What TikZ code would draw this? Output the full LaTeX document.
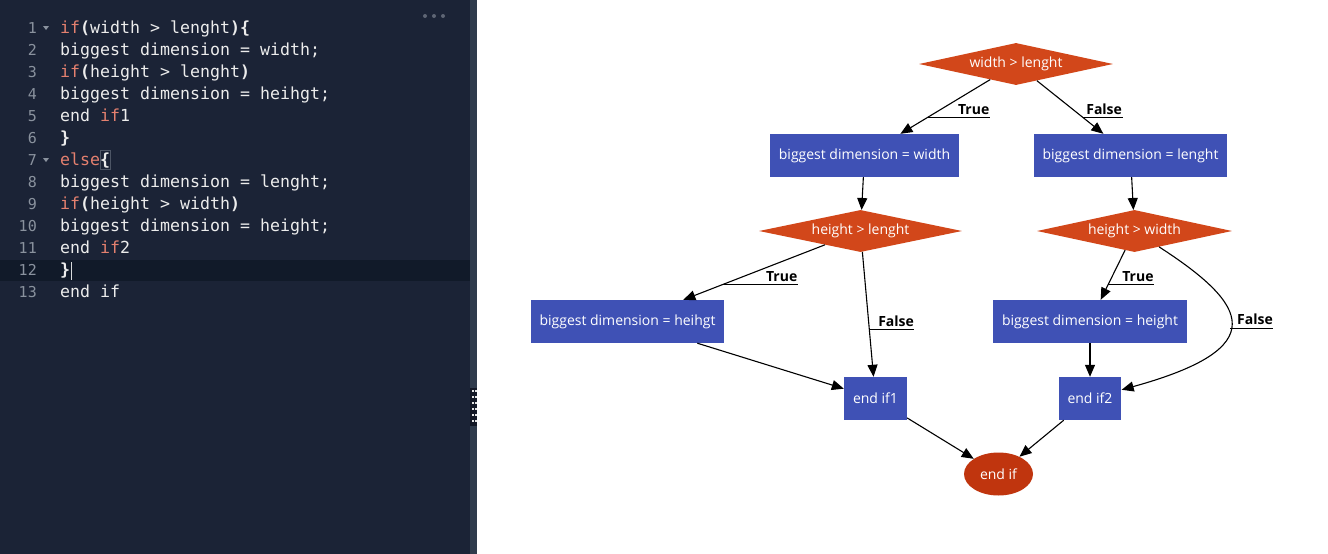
\documentclass[tikz,border=0pt]{standalone}
\usepackage{fontspec}
\setmainfont{Open Sans}
\newfontfamily\codefont{DejaVu Sans Mono}
\usetikzlibrary{shapes,arrows.meta}

\definecolor{panelbg}{HTML}{1B2336}
\definecolor{activeline}{HTML}{111A29}
\definecolor{gutterbar}{HTML}{2F3B4C}
\definecolor{linenum}{HTML}{8A929E}
\definecolor{keyword}{HTML}{E4806F}
\definecolor{codetext}{HTML}{ECECEC}
\definecolor{boxblue}{HTML}{3F51B5}
\definecolor{condred}{HTML}{D2471A}
\definecolor{endred}{HTML}{C0350E}

\newcommand\kw[1]{\textcolor{keyword}{#1}}
\newcommand\brk[1]{\textbf{#1}}

\tikzset{
  codeline/.style = {
    anchor=base west,
    inner sep=0,
    text=codetext,
    font=\codefont\fontsize{16.6}{20}\selectfont
  },
  linenr/.style = {
    anchor=base east,
    inner sep=0,
    text=linenum,
    font=\codefont\fontsize{15}{18}\selectfont
  },
  process/.style = {
    rectangle,
    fill=boxblue,
    text=white,
    minimum height=43pt,
    inner xsep=9pt,
    font=\fontsize{14}{17}\selectfont
  },
  decision/.style = {
    diamond,
    fill=condred,
    text=white,
    aspect=4.6,
    inner sep=0,
    minimum height=42pt,
    font=\fontsize{14}{17}\selectfont
  },
  terminal/.style = {
    ellipse,
    fill=endred,
    text=white,
    inner sep=0,
    minimum width=69pt,
    minimum height=43pt,
    font=\fontsize{14}{17}\selectfont
  },
  answer/.style = {
    anchor=south west,
    text width=#1,
    align=right,
    inner xsep=0,
    inner ysep=3pt,
    text=black,
    font=\bfseries\fontsize{14}{17}\selectfont
  },
  flow/.style = {
    line width=1.1pt,
    -{Triangle[length=12pt,width=10pt]},
    black
  }
}

\begin{document}
\begin{tikzpicture}[x=1pt, y=-1pt]

\fill[white] (0,0) rectangle (1328,554);
\useasboundingbox (0,0) rectangle (1328,554);

% Editor
\fill[panelbg] (0,0) rectangle (470,554);
\fill[activeline] (0,260) rectangle (470,281);
\fill[gutterbar] (470,0) rectangle (477,554);
\fill[panelbg!70!black] (470,388) rectangle (477,426);
\foreach \gy in {390,396,...,420} {
  \fill[white!80!gray] (472,\gy) rectangle +(1.6,2);
  \fill[white!80!gray] (475,\gy) rectangle +(1.6,2);
}
\fill[linenum!60!panelbg] (425,16) circle (2) (434,16) circle (2) (443,16) circle (2);

% Zeilennummern
\node[linenr] (n1) at (37,33) {1};
\node[linenr] (n2) at (37,55) {2};
\node[linenr] (n3) at (37,77) {3};
\node[linenr] (n4) at (37,99) {4};
\node[linenr] (n5) at (37,121) {5};
\node[linenr] (n6) at (37,143) {6};
\node[linenr] (n7) at (37,165) {7};
\node[linenr] (n8) at (37,187) {8};
\node[linenr] (n9) at (37,209) {9};
\node[linenr] (n10) at (37,231) {10};
\node[linenr] (n11) at (37,253) {11};
\node[linenr] (n12) at (37,275) {12};
\node[linenr] (n13) at (37,297) {13};
\fill[linenum] (43,26) -- (49,26) -- (46,30) -- cycle;
\fill[linenum] (43,158) -- (49,158) -- (46,162) -- cycle;

% Code
\draw[linenum!45!panelbg] (100,150) rectangle (110,169);
\node[codeline] (c1) at (60,33) {\kw{if}\brk{(}width > lenght\brk{)\{}};
\node[codeline] (c2) at (60,55) {biggest dimension = width;};
\node[codeline] (c3) at (60,77) {\kw{if}\brk{(}height > lenght\brk{)}};
\node[codeline] (c4) at (60,99) {biggest dimension = heihgt;};
\node[codeline] (c5) at (60,121) {end \kw{if}1};
\node[codeline] (c6) at (60,143) {\brk{\}}};
\node[codeline] (c7) at (60,165) {\kw{else}\brk{\{}};
\node[codeline] (c8) at (60,187) {biggest dimension = lenght;};
\node[codeline] (c9) at (60,209) {\kw{if}\brk{(}height > width\brk{)}};
\node[codeline] (c10) at (60,231) {biggest dimension = height;};
\node[codeline] (c11) at (60,253) {end \kw{if}2};
\node[codeline] (c12) at (60,275) {\brk{\}}};
\node[codeline] (c13) at (60,297) {end if};
\draw[codetext!80!linenum, line width=1pt] (71,262) -- (71,280);

% Flussdiagramm
\node[decision, minimum width=194pt] (d1) at (1016,64) {width > lenght};
\node[process] (b1) at (864.5,155.5) {biggest dimension = width};
\node[process] (b2) at (1130.5,155.5) {biggest dimension = lenght};
\node[decision, minimum width=203pt] (d2) at (860.5,231) {height > lenght};
\node[decision, minimum width=195pt] (d3) at (1134.5,231) {height > width};
\node[process] (b3) at (627.5,321.5) {biggest dimension = heihgt};
\node[process] (b4) at (1090,321.5) {biggest dimension = height};
\node[process] (e1) at (875.5,398.5) {end if1};
\node[process] (e2) at (1090,398.5) {end if2};
\node[terminal] (fin) at (998.5,474) {end if};

% Verbindungen
\draw[flow] (d1) -- node[answer=62pt, pos=0.707] (t1) {True} (b1);
\draw[flow] (d1) -- node[answer=38pt, pos=0.70] (f1) {False} (b2);
\draw[flow] (b1) -- (d2);
\draw[flow] (b2) -- (d3);
\draw[flow] (d2) -- node[answer=75pt, pos=0.729] (t2) {True} (b3);
\draw[flow] (d2) -- node[answer=44pt, pos=0.625] (f2) {False} (e1);
\draw[flow] (d3) -- node[answer=45pt, pos=0.70] (t3) {True} (b4);
\draw[flow] (d3) .. controls (1249,305) and (1273,348) .. node[answer=42pt, pos=0.53] (f3) {False} (e2);
\draw[flow] (b3) -- (e1);
\draw[flow] (b4) -- (e2);
\draw[flow] (e1) -- (fin);
\draw[flow] (e2) -- (fin);

% Unterstreichungen
\draw[line width=1pt] (t1.south west) -- (t1.south east);
\draw[line width=1pt] (f1.south west) -- (f1.south east);
\draw[line width=1pt] (t2.south west) -- (t2.south east);
\draw[line width=1pt] (f2.south west) -- (f2.south east);
\draw[line width=1pt] (t3.south west) -- (t3.south east);
\draw[line width=1pt] (f3.south west) -- (f3.south east);

\end{tikzpicture}
\end{document}
